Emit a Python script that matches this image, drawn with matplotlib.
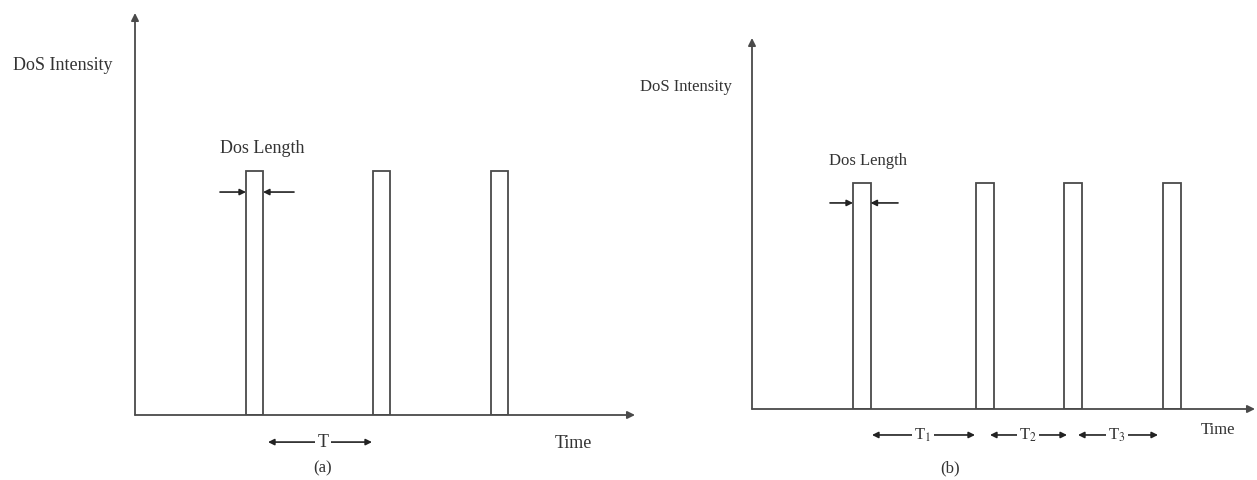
import matplotlib
matplotlib.use("Agg")
import matplotlib.pyplot as plt

plt.rcParams['font.family'] = ['Liberation Serif', 'DejaVu Serif']
plt.rcParams['mathtext.fontset'] = 'stix'

# ---- data (arbitrary time units) ----
a_starts = [11.1, 23.8, 35.6]          # start times of DoS bursts, panel (a)
a_length = 1.7                          # DoS length
a_intensity = 1.0
b_starts = [10.1, 22.4, 31.2, 41.1]     # start times of DoS bursts, panel (b)
b_length = 1.75
b_intensity = 1.0
b_periods = ['T$_1$', 'T$_2$', 'T$_3$']
b_period_spans = [(12.0, 22.3), (23.8, 31.5), (32.6, 40.6)]
b_period_label_x = [17.1, 27.6, 36.5]

LC = '#4a4a4a'
TC = '#333333'

fig = plt.figure(figsize=(12.57, 4.8), dpi=100)
fig.patch.set_facecolor('white')

def axis_arrows(ax, xmax, ymax):
    ax.annotate('', xy=(xmax, 0), xytext=(0, 0),
                arrowprops=dict(arrowstyle='-|>', lw=1.3, color=LC,
                                mutation_scale=11, shrinkA=0, shrinkB=0),
                annotation_clip=False)
    ax.annotate('', xy=(0, ymax), xytext=(0, 0),
                arrowprops=dict(arrowstyle='-|>', lw=1.3, color=LC,
                                mutation_scale=11, shrinkA=0, shrinkB=0),
                annotation_clip=False)

def arrow(ax, x0, x1, y):
    ax.annotate('', xy=(x1, y), xytext=(x0, y),
                arrowprops=dict(arrowstyle='-|>', lw=1.2, color='#222222',
                                mutation_scale=9, shrinkA=0, shrinkB=0),
                annotation_clip=False)

def dbl_arrow(ax, x0, x1, y, label, lx, fs):
    ax.annotate('', xy=(x1, y), xytext=(x0, y),
                arrowprops=dict(arrowstyle='<|-|>', lw=1.2, color='#222222',
                                mutation_scale=9, shrinkA=0, shrinkB=0),
                annotation_clip=False)
    ax.text(lx, y, label, ha='center', va='center', fontsize=fs, color=TC,
            bbox=dict(facecolor='white', edgecolor='none', pad=1.5), clip_on=False)

# ---- panel (a) ----
axa = fig.add_axes([135/1257, 65/480, 500/1257, 402/480])
axa.set_xlim(0, 50)
axa.set_ylim(0, 1.648)
axa.axis('off')
axa.bar(a_starts, [a_intensity]*len(a_starts), width=a_length, align='edge',
        facecolor='white', edgecolor=LC, lw=1.3)
axis_arrows(axa, 50, 1.648)
axa.text(-7.2, 1.434, 'DoS Intensity', ha='center', va='center', fontsize=13, color=TC)
axa.text(12.7, 1.094, 'Dos Length', ha='center', va='center', fontsize=13, color=TC)
arrow(axa, 8.5, a_starts[0], 0.914)
arrow(axa, 15.9, a_starts[0] + a_length, 0.914)
dbl_arrow(axa, 13.3, 23.7, -0.111, 'T', 18.8, 13)
axa.text(43.8, -0.115, 'Time', ha='center', va='center', fontsize=13, color=TC)
axa.text(18.8, -0.217, '(a)', ha='center', va='center', fontsize=12, color=TC)

# ---- panel (b) ----
axb = fig.add_axes([752/1257, 71/480, 503/1257, 371/480])
axb.set_xlim(0, 50.3)
axb.set_ylim(0, 1.642)
axb.axis('off')
axb.bar(b_starts, [b_intensity]*len(b_starts), width=b_length, align='edge',
        facecolor='white', edgecolor=LC, lw=1.3)
axis_arrows(axb, 50.3, 1.642)
axb.text(-6.6, 1.425, 'DoS Intensity', ha='center', va='center', fontsize=12, color=TC)
axb.text(11.6, 1.097, 'Dos Length', ha='center', va='center', fontsize=12, color=TC)
arrow(axb, 7.8, b_starts[0], 0.912)
arrow(axb, 14.6, b_starts[0] + b_length, 0.912)
for lab, (x0, x1), lx in zip(b_periods, b_period_spans, b_period_label_x):
    dbl_arrow(axb, x0, x1, -0.115, lab, lx, 12)
axb.text(46.6, -0.093, 'Time', ha='center', va='center', fontsize=12, color=TC)
axb.text(19.8, -0.261, '(b)', ha='center', va='center', fontsize=12, color=TC)

fig.savefig('out.png', dpi=100, facecolor='white')
